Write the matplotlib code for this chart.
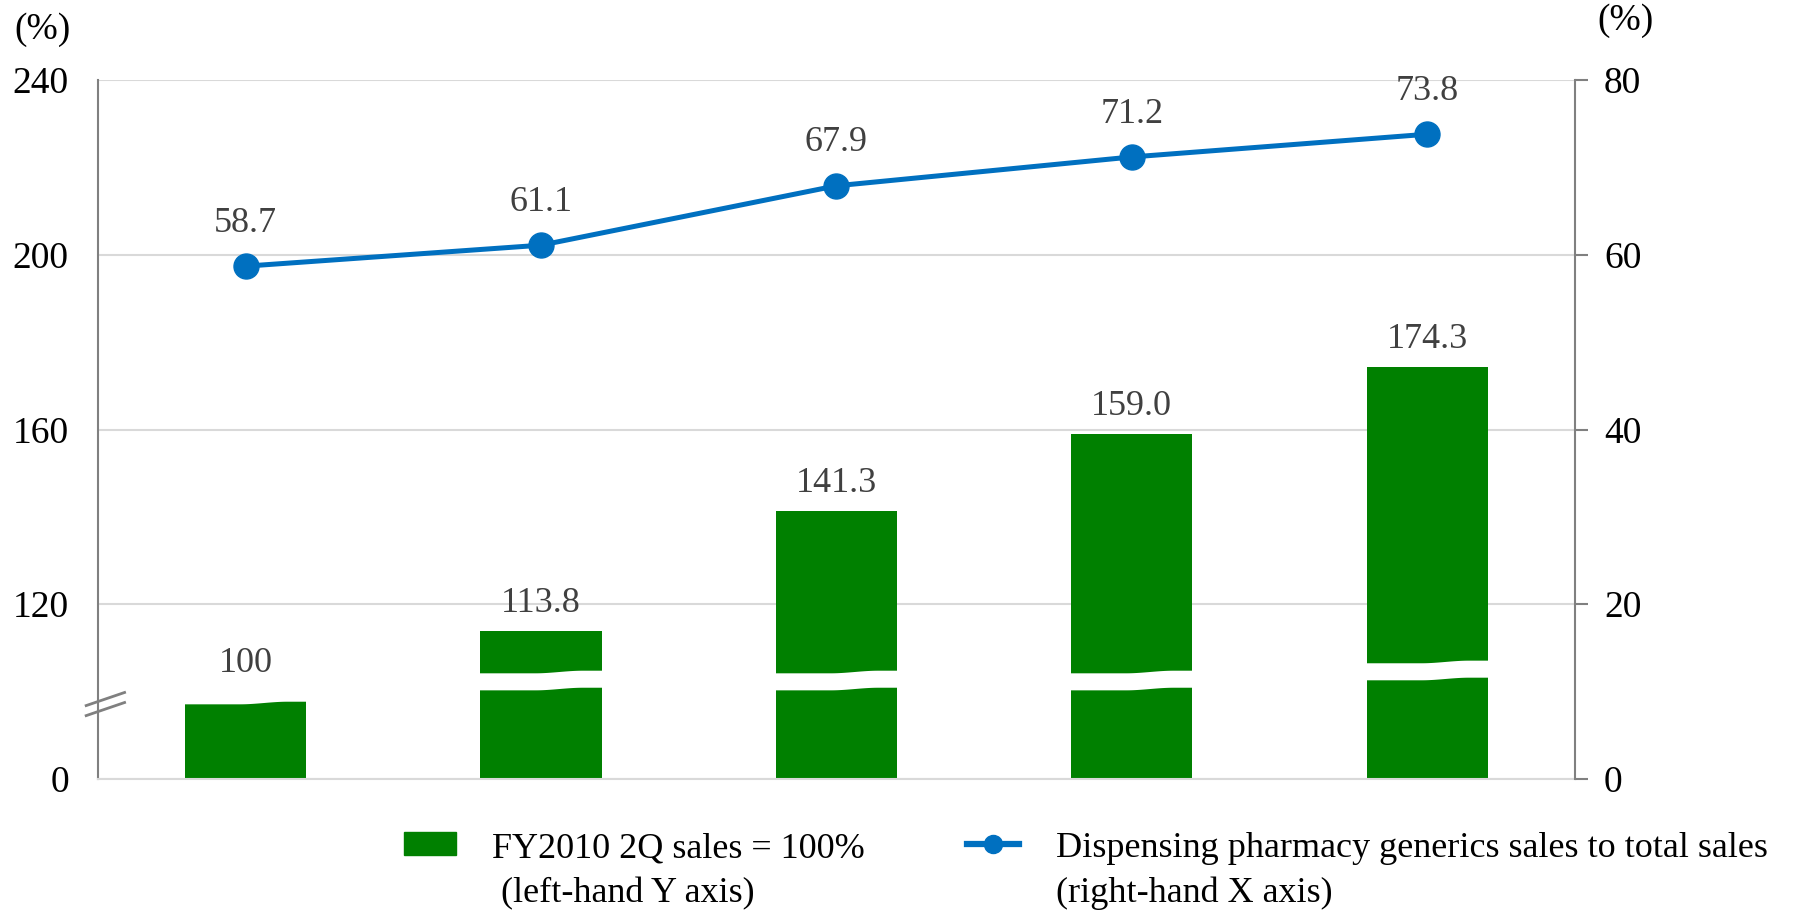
import matplotlib
matplotlib.use("Agg")
import matplotlib.pyplot as plt
import numpy as np

plt.rcParams['font.family'] = ['Liberation Serif', 'DejaVu Serif']

# sales index (FY2010 2Q = 100) and generics share of total sales
periods = ['P1', 'P2', 'P3', 'P4', 'P5']
sales_index = [100, 113.8, 141.3, 159.0, 174.3]
sales_labels = ['100', '113.8', '141.3', '159.0', '174.3']
generics_share = [58.7, 61.1, 67.9, 71.2, 73.8]
# where the axis break cuts through each bar (left-axis units)
cut_at = [97.2, 100.4, 100.4, 100.4, 102.7]

left_ticks = [80, 120, 160, 200, 240]
left_ticklabels = ['0', '120', '160', '200', '240']
right_ticks = [0, 20, 40, 60, 80]

GREEN = '#008000'
BLUE = '#0070C0'
FS = 26

fig = plt.figure(figsize=(18.08, 9.10), dpi=100)
ax = fig.add_axes([0.0542, 0.144, 0.871 - 0.0542, 0.768])
x = np.arange(len(periods))
w = 0.41

ax.bar(x, sales_index, width=w, color=GREEN, zorder=2)
ax.set_xlim(-0.5, len(periods) - 0.5)
ax.set_ylim(80, 240)
ax.set_yticks(left_ticks)
ax.set_yticklabels(left_ticklabels, fontsize=27)
ax.tick_params(axis='y', length=0, pad=21)
ax.set_xticks([])
ax.set_axisbelow(True)
ax.grid(axis='y', color='#D9D9D9', linewidth=1.5)
ax.spines['top'].set_visible(False)
ax.spines['right'].set_visible(False)
ax.spines['bottom'].set_color('#D9D9D9')
ax.spines['bottom'].set_linewidth(1.5)
ax.spines['left'].set_color('#808080')
ax.spines['left'].set_linewidth(1.5)

# white break bands across the bars, with a gentle kink in the middle
for i, lo in enumerate(cut_at):
    xs = np.linspace(i - w / 2 - 0.01, i + w / 2 + 0.01, 80)
    t = np.clip((xs - (i - 0.02)) / 0.16, 0, 1)
    step = 0.6 * t * t * (3 - 2 * t)
    ax.fill_between(xs, lo + step, lo + 3.9 + step, color='white', zorder=3, lw=0)

for i, (v, s) in enumerate(zip(sales_index, sales_labels)):
    ax.annotate(s, (i, v), xytext=(0, 8), textcoords='offset points',
                ha='center', va='bottom', fontsize=FS, color='#404040', zorder=5)

# axis break mark on the left spine
for dy in (0, 2.3):
    ax.plot([-0.54, -0.41], [94.5 + dy, 97.5 + dy], color='#808080', lw=2,
            clip_on=False, zorder=6)

ax2 = ax.twinx()
ax2.set_ylim(0, 80)
ax2.set_yticks(right_ticks)
ax2.set_yticklabels([str(v) for v in right_ticks], fontsize=27)
ax2.tick_params(axis='y', length=9, width=1.5, color='#808080', pad=12)
for sp in ('top', 'bottom', 'left'):
    ax2.spines[sp].set_visible(False)
ax2.spines['right'].set_color('#808080')
ax2.spines['right'].set_linewidth(1.5)

ax2.plot(x, generics_share, color=BLUE, lw=3.6, marker='o', markersize=18, zorder=4)
for i, v in enumerate(generics_share):
    ax2.annotate(f'{v:.1f}', (i, v), xytext=(0, 19), textcoords='offset points',
                 ha='center', va='bottom', fontsize=FS, color='#404040')

fig.text(14 / 1808, 1 - 30 / 910, '(%)', fontsize=27, va='center', ha='left')
fig.text(1597 / 1808, 1 - 21 / 910, '(%)', fontsize=27, va='center', ha='left')

bar_h = plt.Rectangle((0, 0), 1, 1, color=GREEN)
line_h = plt.Line2D([], [], color=BLUE, lw=4.5, marker='o', markersize=13)
leg = fig.legend([bar_h, line_h],
                 ['FY2010 2Q sales = 100%\n (left-hand Y axis)',
                  'Dispensing pharmacy generics sales to total sales\n(right-hand X axis)'],
                 loc='upper left', bbox_to_anchor=(404 / 1808, 1 - 832 / 910),
                 ncol=2, frameon=False, fontsize=FS, borderpad=0, borderaxespad=0,
                 handlelength=1.45, handleheight=0.6, handletextpad=1.0,
                 columnspacing=2.82, labelspacing=0.2)
for t in leg.get_texts():
    t.set_linespacing(1.45)
# put the legend keys level with the first line of each label
for col in leg._legend_handle_box.get_children():
    for item in col.get_children():
        item.align = 'top'

fig.savefig('out.png', dpi=100)
